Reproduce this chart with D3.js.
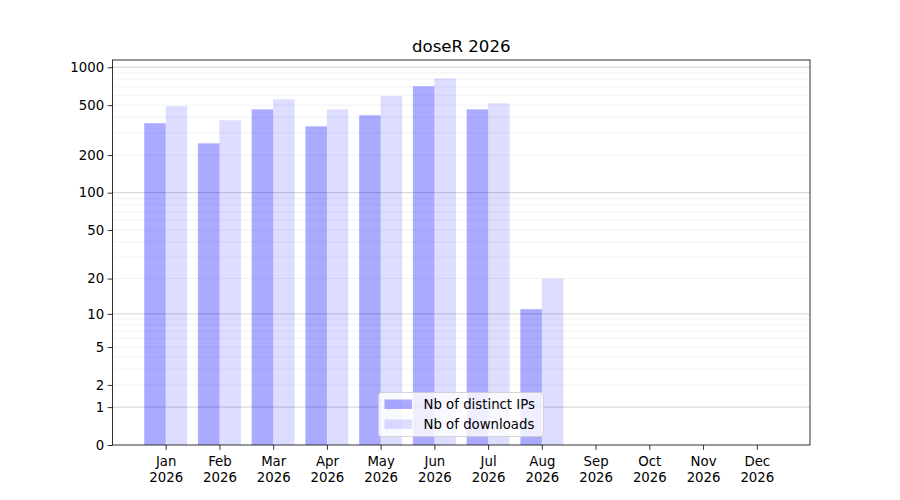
<!DOCTYPE html>
<html>
<head>
<meta charset="utf-8">
<script src="https://cdn.jsdelivr.net/npm/d3@7"></script>
<style>
  body { margin: 0; background: #fff; }
  svg { font-family: "DejaVu Sans", sans-serif; }
</style>
</head>
<body>
<div id="chart"></div>
<script>
// --- Data ---
const months = ["Jan", "Feb", "Mar", "Apr", "May", "Jun", "Jul", "Aug", "Sep", "Oct", "Nov", "Dec"];
const year = "2026";
const distinctIPs = [359, 248, 463, 339, 415, 706, 463, 11, 0, 0, 0, 0];
const downloads = [490, 379, 556, 463, 591, 817, 517, 20, 0, 0, 0, 0];
const yTicks = [0, 1, 2, 5, 10, 20, 50, 100, 200, 500, 1000];
const majorGrid = [1, 10, 100, 1000];
const minorGrid = [2, 3, 4, 5, 6, 7, 8, 9, 20, 30, 40, 50, 60, 70, 80, 90, 200, 300, 400, 500, 600, 700, 800, 900];
const seriesNames = ["Nb of distinct IPs", "Nb of downloads"];

// --- Layout (matplotlib default subplot box) ---
const W = 900, H = 500;
const axL = 112.5, axR = 810, axT = 60, axB = 445;
const barW = 0.4;

const svg = d3.select("#chart").append("svg").attr("width", W).attr("height", H);

// x: month index, with 5% margins around the bar extent
const xMin = -barW, xMax = months.length - 1 + barW, xPad = (xMax - xMin) * 0.05;
const x = d3.scaleLinear().domain([xMin - xPad, xMax + xPad]).range([axL, axR]);

// y: log(1 + v) style scale, top has 5% margin in transformed space
const maxVal = d3.max(downloads.concat(distinctIPs));
const yTop = Math.expm1(1.05 * Math.log1p(maxVal));
const y = d3.scaleSymlog().constant(1).domain([0, yTop]).range([axB, axT]);

// --- Grid ---
const grid = svg.append("g");
grid.selectAll(".minor").data(minorGrid).enter().append("line")
    .attr("x1", axL).attr("x2", axR)
    .attr("y1", d => y(d)).attr("y2", d => y(d))
    .attr("stroke", "#b0b0b0").attr("stroke-opacity", 0.2).attr("stroke-width", 0.8);
grid.selectAll(".major").data(majorGrid).enter().append("line")
    .attr("x1", axL).attr("x2", axR)
    .attr("y1", d => y(d)).attr("y2", d => y(d))
    .attr("stroke", "#b0b0b0").attr("stroke-opacity", 0.75).attr("stroke-width", 0.8);

// --- Bars ---
const bars = svg.append("g");
bars.selectAll(".ip").data(distinctIPs).enter().append("rect")
    .attr("x", (d, i) => x(i - barW)).attr("width", (d, i) => x(i) - x(i - barW))
    .attr("y", d => y(d)).attr("height", d => axB - y(d))
    .attr("fill", "blue").attr("fill-opacity", 0.333);
bars.selectAll(".dl").data(downloads).enter().append("rect")
    .attr("x", (d, i) => x(i)).attr("width", (d, i) => x(i + barW) - x(i))
    .attr("y", d => y(d)).attr("height", d => axB - y(d))
    .attr("fill", "blue").attr("fill-opacity", 0.133);

// --- Axes ---
const yAxis = d3.axisLeft(y).tickValues(yTicks).tickFormat(d3.format("d")).tickSize(4.9).tickPadding(3.5);
const gy = svg.append("g").attr("transform", `translate(${axL},0)`).call(yAxis);
gy.select(".domain").remove();

const xAxis = d3.axisBottom(x).tickValues(d3.range(months.length)).tickFormat("").tickSize(4.9);
const gx = svg.append("g").attr("transform", `translate(0,${axB})`).call(xAxis);
gx.select(".domain").remove();
gx.selectAll(".tick text").remove();
gx.selectAll(".tick").each(function(d) {
    const t = d3.select(this).append("text").attr("fill", "#000").attr("text-anchor", "middle")
        .style("font-size", "13.3px");
    t.append("tspan").attr("x", 0).attr("y", 21).text(months[d]);
    t.append("tspan").attr("x", 0).attr("y", 37).text(year);
});
[gx, gy].forEach(g => {
    g.selectAll(".tick line").attr("stroke", "#000").attr("stroke-width", 0.8);
    g.selectAll(".tick text").attr("fill", "#000").style("font-size", "13.3px").attr("font-family", "DejaVu Sans");
});

svg.append("rect").attr("x", axL).attr("y", axT).attr("width", axR - axL).attr("height", axB - axT)
    .attr("fill", "none").attr("stroke", "#000").attr("stroke-width", 0.8);

// --- Title ---
svg.append("text").attr("x", (axL + axR) / 2).attr("y", axT - 8).attr("text-anchor", "middle")
    .style("font-size", "16.6px").text("doseR " + year);

// --- Legend (lower center) ---
const lg = svg.append("g").attr("transform", "translate(378.5,392.5)");
lg.append("rect").attr("width", 165).attr("height", 44).attr("rx", 3)
    .attr("fill", "#fff").attr("fill-opacity", 0.8).attr("stroke", "#cccccc").attr("stroke-width", 0.8);
const legendOpacity = [0.333, 0.133];
seriesNames.forEach((name, i) => {
    lg.append("rect").attr("x", 6).attr("y", 7 + i * 20).attr("width", 27.5).attr("height", 9.5)
        .attr("fill", "blue").attr("fill-opacity", legendOpacity[i]);
    lg.append("text").attr("x", 45).attr("y", 16.5 + i * 20).style("font-size", "13.3px").text(name);
});
</script>
</body>
</html>
